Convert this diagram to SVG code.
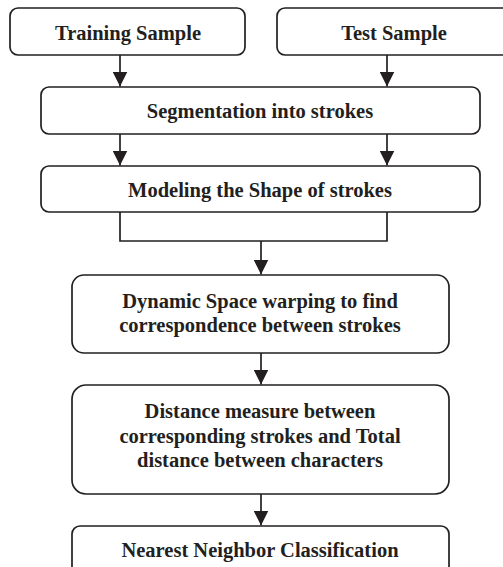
<svg xmlns="http://www.w3.org/2000/svg" width="503" height="567" viewBox="0 0 503 567">
<style>
.box{fill:#fff;stroke:#231f20;stroke-width:1.7}
.t{font-family:"Liberation Serif","Times New Roman",serif;font-weight:bold;font-size:20.5px;fill:#231f20;text-anchor:middle}
.c{fill:none;stroke:#231f20;stroke-width:1.7}
</style>
<defs>
<marker id="ah" viewBox="0 0 15 15" refX="15" refY="7.5" markerWidth="15" markerHeight="15" markerUnits="userSpaceOnUse" orient="auto">
<path d="M0,0 L15,7.5 L0,15 Z" fill="#231f20"/>
</marker>
</defs>
<rect width="503" height="567" fill="#fff"/>
<g id="connectors">
<line class="c" x1="120" y1="55" x2="120" y2="86.5" marker-end="url(#ah)"/>
<line class="c" x1="387" y1="55" x2="387" y2="86.5" marker-end="url(#ah)"/>
<line class="c" x1="120" y1="134" x2="120" y2="165.5" marker-end="url(#ah)"/>
<line class="c" x1="387" y1="134" x2="387" y2="165.5" marker-end="url(#ah)"/>
<polyline class="c" points="120,212 120,241 387,241 387,212"/>
<line class="c" x1="261" y1="241" x2="261" y2="274.5" marker-end="url(#ah)"/>
<line class="c" x1="261" y1="353" x2="261" y2="384.5" marker-end="url(#ah)"/>
<line class="c" x1="261" y1="494" x2="261" y2="525.5" marker-end="url(#ah)"/>
</g>
<g id="training">
<rect class="box" x="10" y="8" width="235" height="47" rx="8"/>
<text class="t" x="128" y="40">Training Sample</text>
</g>
<g id="test">
<rect class="box" x="277" y="8" width="240" height="47" rx="8"/>
<text class="t" x="394" y="40">Test Sample</text>
</g>
<g id="segmentation">
<rect class="box" x="41" y="87" width="439" height="47" rx="8"/>
<text class="t" x="260" y="118">Segmentation into strokes</text>
</g>
<g id="modeling">
<rect class="box" x="41" y="166" width="439" height="46" rx="8"/>
<text class="t" x="260" y="197">Modeling the Shape of strokes</text>
</g>
<g id="dsw">
<rect class="box" x="72" y="275" width="377" height="78" rx="12"/>
<text class="t" x="260" y="308">Dynamic Space warping to find</text>
<text class="t" x="260" y="332">correspondence between strokes</text>
</g>
<g id="distance">
<rect class="box" x="72" y="385" width="377" height="109" rx="14"/>
<text class="t" x="260" y="418">Distance measure between</text>
<text class="t" x="260" y="443">corresponding strokes and Total</text>
<text class="t" x="260" y="467">distance between characters</text>
</g>
<g id="nearest">
<rect class="box" x="72" y="526" width="377" height="60" rx="8"/>
<text class="t" x="260" y="557">Nearest Neighbor Classification</text>
</g>
</svg>
